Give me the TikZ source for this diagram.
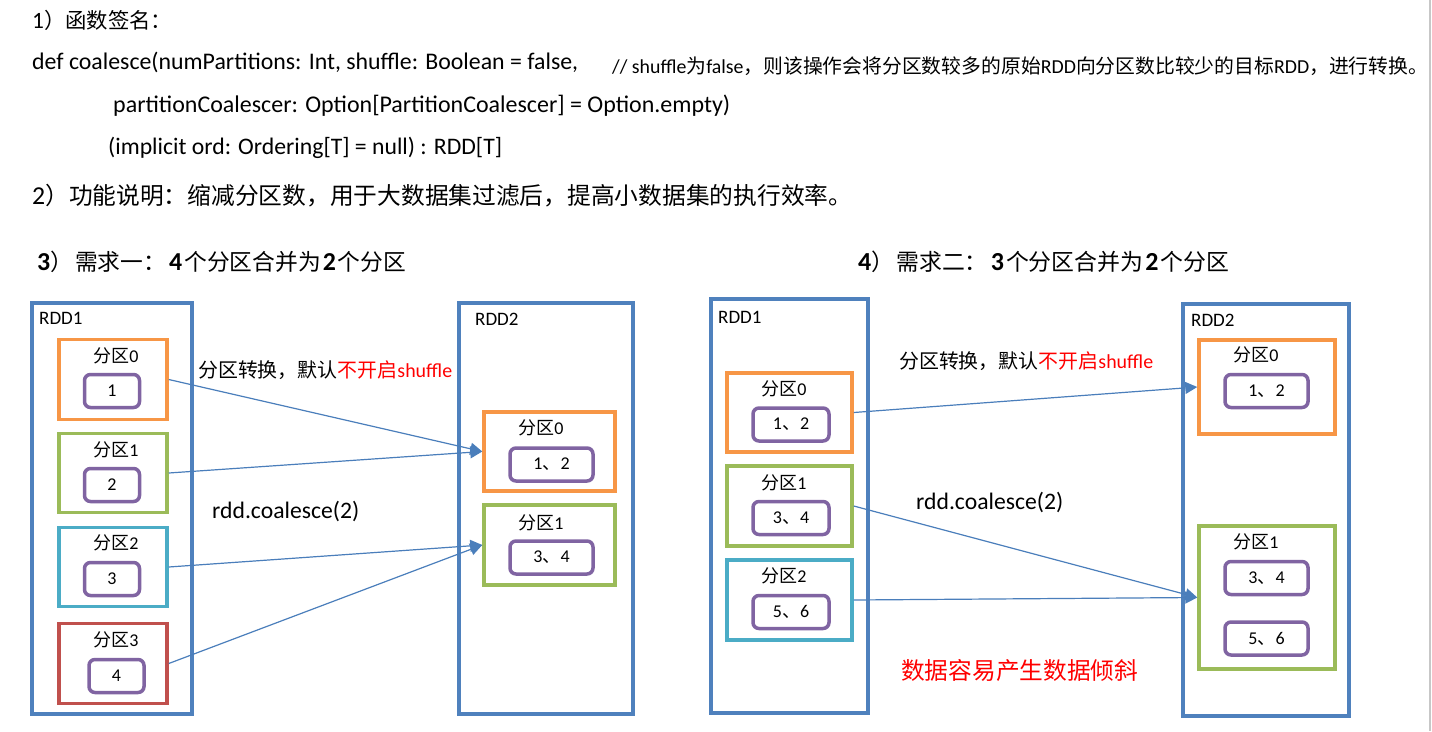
\documentclass[tikz,border=0pt]{standalone}
\usepackage{fontspec}
\usepackage{graphicx}
\setmainfont{Carlito}
\newfontfamily\cjk{Noto Sans CJK SC}
\usetikzlibrary{arrows.meta}
\definecolor{rddblue}{HTML}{4F81BD}
\definecolor{porange}{HTML}{F79646}
\definecolor{pgreen}{HTML}{9BBB59}
\definecolor{pcyan}{HTML}{4BACC6}
\definecolor{pred}{HTML}{C0504D}
\definecolor{ppurple}{HTML}{8064A2}
\definecolor{conblue}{HTML}{4A7EBB}
\definecolor{txtred}{HTML}{FF0000}
\newcommand{\fitw}[3]{\resizebox{#1pt}{!}{\fontsize{#2}{#2}\selectfont #3}}
\newcommand{\zh}[1]{{\cjk #1}}
\newcommand{\bigd}[1]{{\fontsize{25}{25}\selectfont\bfseries #1}}
\begin{document}
\begin{tikzpicture}[x=1pt,y=-1pt,
  rddbox/.style={draw=rddblue, line width=3.5pt, inner sep=0pt},
  partbox/.style={draw=#1, line width=3.5pt, inner sep=0pt},
  valbox/.style={draw=ppurple, line width=3.5pt, rounded corners=6pt, inner sep=0pt,
     font=\fontsize{18}{18}\selectfont},
  plabel/.style={inner sep=0pt, font=\fontsize{18}{18}\selectfont},
  rddlabel/.style={inner sep=0pt, anchor=west, font=\fontsize{19}{19}\selectfont},
  txt/.style={inner sep=0pt, anchor=west},
  conn/.style={draw=conblue, line width=1.2pt, -{Triangle[length=12pt,width=12pt]}},
]
\useasboundingbox (0,0) rectangle (1432,731);
\fill[white] (0,0) rectangle (1432,731);
\draw[draw=black!22, line width=2pt] (1430,0) -- (1430,731);

% ---------- top text ----------
\node[txt] (t1) at (32,20) {\fitw{140}{21}{{\fontsize{23}{23}\selectfont 1}\zh{）函数签名：}}};
\node[txt] (t2) at (32,62) {\fitw{546}{21}{def coalesce(numPartitions: Int, shuffle: Boolean = false,}};
\node[txt] (t3) at (612,66) {\fitw{816}{19.5}{// shuffle\zh{为}false\zh{，则该操作会将分区数较多的原始}RDD\zh{向分区数比较少的目标}RDD\zh{，进行转换。}}};
\node[txt] (t4) at (113,106) {\fitw{617}{21}{partitionCoalescer: Option[PartitionCoalescer] = Option.empty)}};
\node[txt] (t5) at (108,148) {\fitw{394}{21}{(implicit ord: Ordering[T] = null) : RDD[T]}};
\node[txt] (t6) at (32,196) {\fitw{820}{23}{{\fontsize{25}{25}\selectfont 2}\zh{）功能说明：缩减分区数，用于大数据集过滤后，提高小数据集的执行效率。}}};

\node[txt] (h3) at (37,262) {\fitw{369}{22}{\bigd{3}\zh{）}\hspace{2pt}\zh{需求一：}\hspace{3pt}\bigd{4}\hspace{2pt}\zh{个分区合并为}\hspace{2pt}\bigd{2}\hspace{2pt}\zh{个分区}}};
\node[txt] (h4) at (858,262) {\fitw{371}{22}{\bigd{4}\zh{）}\hspace{2pt}\zh{需求二：}\hspace{3pt}\bigd{3}\hspace{2pt}\zh{个分区合并为}\hspace{2pt}\bigd{2}\hspace{2pt}\zh{个分区}}};

% ---------- left diagram ----------
\node[rddbox, minimum width=160pt, minimum height=411pt] (A1) at (112,508.5) {};
\node[rddlabel] (A1l) at (39,318) {RDD1};
\node[partbox=porange, minimum width=108pt, minimum height=80pt] (A1p0) at (113,379.5) {};
\node[partbox=pgreen,  minimum width=108pt, minimum height=79pt] (A1p1) at (113,473) {};
\node[partbox=pcyan,   minimum width=108pt, minimum height=79pt] (A1p2) at (113,567) {};
\node[partbox=pred,    minimum width=108pt, minimum height=80pt] (A1p3) at (113,663.5) {};
\node[plabel] (A1p0l) at (116,356) {\zh{分区}0};
\node[plabel] (A1p1l) at (116,450) {\zh{分区}1};
\node[plabel] (A1p2l) at (116,543) {\zh{分区}2};
\node[plabel] (A1p3l) at (116,640) {\zh{分区}3};
\node[valbox, minimum width=55pt, minimum height=33pt] (A1v0) at (112,391) {1};
\node[valbox, minimum width=55pt, minimum height=33pt] (A1v1) at (112,485) {2};
\node[valbox, minimum width=55pt, minimum height=33pt] (A1v2) at (112,579) {3};
\node[valbox, minimum width=55pt, minimum height=33pt] (A1v3) at (116.5,676) {4};

\node[rddbox, minimum width=174pt, minimum height=411pt] (A2) at (546,508.5) {};
\node[rddlabel] (A2l) at (475,319) {RDD2};
\node[partbox=porange, minimum width=131pt, minimum height=79pt] (A2p0) at (549.5,451.5) {};
\node[partbox=pgreen,  minimum width=131pt, minimum height=80pt] (A2p1) at (549.5,545) {};
\node[plabel] (A2p0l) at (541,428) {\zh{分区}0};
\node[plabel] (A2p1l) at (541,523) {\zh{分区}1};
\node[valbox, minimum width=83pt, minimum height=33pt] (A2v0) at (551.5,464.5) {1\zh{、}2};
\node[valbox, minimum width=83pt, minimum height=33pt] (A2v1) at (551.5,557.5) {3\zh{、}4};

\node[txt] (Atr) at (198,370) {\fitw{254}{20}{\zh{分区转换，默认}\textcolor{txtred}{\zh{不开启}shuffle}}};
\node[txt] (Aco) at (212,511) {\fitw{147}{22}{rdd.coalesce(2)}};

\draw[conn] (A1p0.east) -- (A2p0.west);
\draw[conn] (A1p1.east) -- (A2p0.west);
\draw[conn] (A1p2.east) -- (A2p1.west);
\draw[conn] (A1p3.east) -- (A2p1.west);

% ---------- right diagram ----------
\node[rddbox, minimum width=157pt, minimum height=414pt] (B1) at (789.5,506) {};
\node[rddlabel] (B1l) at (718,317) {RDD1};
\node[partbox=porange, minimum width=125pt, minimum height=79pt] (B1p0) at (789.5,412.5) {};
\node[partbox=pgreen,  minimum width=125pt, minimum height=80pt] (B1p1) at (789.5,506) {};
\node[partbox=pcyan,   minimum width=125pt, minimum height=80pt] (B1p2) at (789.5,600) {};
\node[plabel] (B1p0l) at (784,389) {\zh{分区}0};
\node[plabel] (B1p1l) at (784,483) {\zh{分区}1};
\node[plabel] (B1p2l) at (784,576) {\zh{分区}2};
\node[valbox, minimum width=76pt, minimum height=33pt] (B1v0) at (791,424.5) {1\zh{、}2};
\node[valbox, minimum width=76pt, minimum height=33pt] (B1v1) at (791,518) {3\zh{、}4};
\node[valbox, minimum width=76pt, minimum height=33pt] (B1v2) at (791,612) {5\zh{、}6};

\node[rddbox, minimum width=166pt, minimum height=412pt] (B2) at (1266,510) {};
\node[rddlabel] (B2l) at (1191,320) {RDD2};
\node[partbox=porange, minimum width=136pt, minimum height=94pt] (B2p0) at (1267,387) {};
\node[partbox=pgreen,  minimum width=136pt, minimum height=143pt] (B2p1) at (1267,597.5) {};
\node[plabel] (B2p0l) at (1256,355) {\zh{分区}0};
\node[plabel] (B2p1l) at (1256,542) {\zh{分区}1};
\node[valbox, minimum width=83pt, minimum height=33pt] (B2v0) at (1266.5,391) {1\zh{、}2};
\node[valbox, minimum width=83pt, minimum height=33pt] (B2v1) at (1266.5,578) {3\zh{、}4};
\node[valbox, minimum width=83pt, minimum height=33pt] (B2v2) at (1266.5,638.5) {5\zh{、}6};

\node[txt] (Btr) at (899,361) {\fitw{254}{20}{\zh{分区转换，默认}\textcolor{txtred}{\zh{不开启}shuffle}}};
\node[txt] (Bco) at (916,502) {\fitw{147}{22}{rdd.coalesce(2)}};
\node[txt, text=txtred] (Bsk) at (901,670) {\fitw{237}{23.5}{\zh{数据容易产生数据倾斜}}};

\draw[conn] (B1p0.east) -- (B2p0.west);
\draw[conn] (B1p1.east) -- (B2p1.west);
\draw[conn] (B1p2.east) -- (B2p1.west);
\end{tikzpicture}
\end{document}
